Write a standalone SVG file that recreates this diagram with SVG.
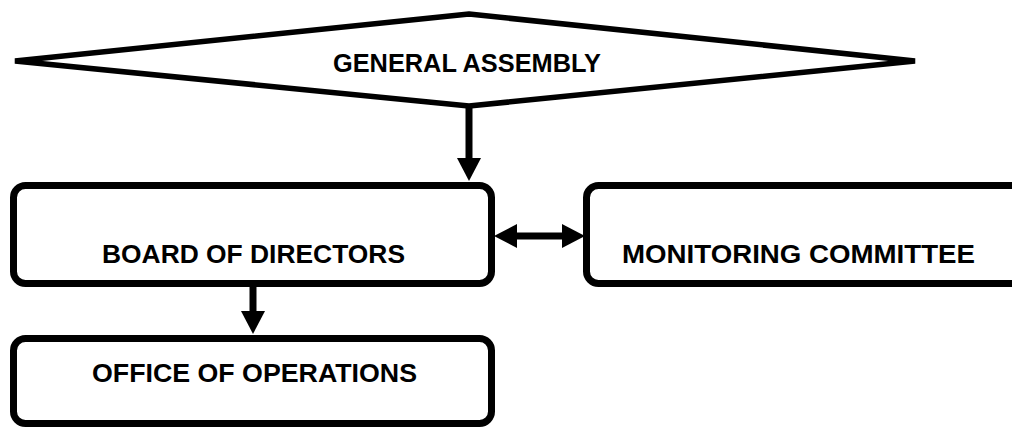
<svg xmlns="http://www.w3.org/2000/svg" width="1012" height="427" viewBox="0 0 1012 427">
<style>
.box{fill:#fff;stroke:#000;stroke-width:7}
.dia{fill:#fff;stroke:#000;stroke-width:5.5;stroke-linejoin:bevel}
.lbl{font-family:"Liberation Sans",Arial,sans-serif;font-weight:bold;font-size:25px;fill:#000}
.conn{stroke:#000;stroke-width:7;fill:none}
</style>
<defs>
<marker id="ah" markerUnits="userSpaceOnUse" viewBox="0 0 23 24" markerWidth="23" markerHeight="24" refX="0" refY="12" orient="auto-start-reverse">
<path d="M0,0 L23,12 L0,24 z" fill="#000"/>
</marker>
</defs>
<rect width="1012" height="427" fill="#fff"/>
<g id="general-assembly">
<polygon class="dia" points="15,61 469,14 915,61 469,106"/>
<text class="lbl" x="333" y="72" textLength="268" lengthAdjust="spacingAndGlyphs">GENERAL ASSEMBLY</text>
</g>
<g id="board-of-directors">
<rect class="box" x="13.5" y="185.5" width="478" height="98" rx="12"/>
<text class="lbl" x="102" y="263" textLength="303" lengthAdjust="spacingAndGlyphs">BOARD OF DIRECTORS</text>
</g>
<g id="monitoring-committee">
<rect class="box" x="586.5" y="185.5" width="450" height="98" rx="12"/>
<text class="lbl" x="622" y="263" textLength="353" lengthAdjust="spacingAndGlyphs">MONITORING COMMITTEE</text>
</g>
<g id="office-of-operations">
<rect class="box" x="13.5" y="338.5" width="478" height="85" rx="12"/>
<text class="lbl" x="92" y="382" textLength="325" lengthAdjust="spacingAndGlyphs">OFFICE OF OPERATIONS</text>
</g>
<g id="connectors">
<line class="conn" x1="469" y1="106" x2="469" y2="158" marker-end="url(#ah)"/>
<line class="conn" x1="253" y1="287" x2="253" y2="311" marker-end="url(#ah)"/>
<line class="conn" x1="517" y1="236" x2="562" y2="236" marker-start="url(#ah)" marker-end="url(#ah)"/>
</g>
</svg>
